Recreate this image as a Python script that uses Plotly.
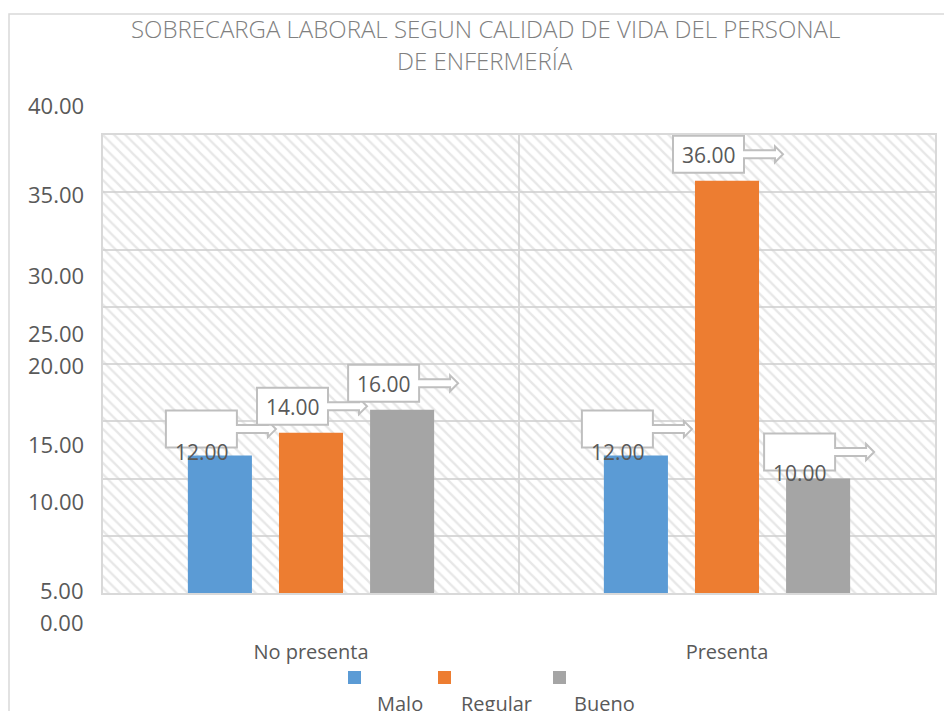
import plotly.graph_objects as go

# data
categories = ["No presenta", "Presenta"]
series = ["Malo", "Regular", "Bueno"]
malo = [12, 12]
regular = [14, 36]
bueno = [16, 10]
tick_labels = ["40.00", "35.00", "30.00", "25.00", "20.00", "15.00", "10.00", "5.00", "0.00"]

# layout helpers (where the labels sit, not data)
tick_label_y = [42.6, 34.85, 27.8, 22.75, 19.9, 13.0, 8.0, 0.26, -2.5]
colors = ["#5b9bd5", "#ed7d31", "#a5a5a5"]
bar_w = 0.154
offsets = [-0.296, -0.077, 0.142]
# vertical shift of the value text per series/category (px)
text_dy = [[4, 4], [26, 26], [26, 6]]
legend_x = [348, 438, 553]
legend_text_x = [400, 496, 604]

# the page adds an 8px body margin, so pull everything back
SHIFT = 8
L, T, PW, PH = 103 - SHIFT, 135 - SHIFT, 832, 458


def px(xp):
    return (xp - SHIFT - L) / PW


def py(yp):
    return (T + PH - (yp - SHIFT)) / PH


values = [malo, regular, bueno]
xs = list(range(len(categories)))

fig = go.Figure()

# hatched plot area
fig.add_trace(go.Bar(x=[0.5], y=[40], width=[2], offset=-1,
                     marker=dict(color="rgba(0,0,0,0)", line=dict(width=0),
                                 pattern=dict(shape="\\", fgcolor="#d0d0d0", size=8, solidity=0.3)),
                     hoverinfo="skip", showlegend=False))

for i, name in enumerate(series):
    fig.add_trace(go.Bar(x=xs, y=values[i], name=name, width=[bar_w] * len(xs),
                         offset=offsets[i], marker=dict(color=colors[i], line=dict(width=0)),
                         showlegend=False))

shapes = []
annotations = []
callout = "M -54,8 L 17,8 L 17,22.5 L 48,22.5 L 48,18.5 L 56,26.5 L 48,34.5 L 48,30.5 L 17,30.5 L 17,45 L -54,45 Z"
for i in range(len(series)):
    for j in xs:
        cx = j + offsets[i] + bar_w / 2
        shapes.append(dict(type="path", xref="x", yref="y", xsizemode="pixel", ysizemode="pixel",
                           xanchor=cx, yanchor=values[i][j], path=callout,
                           fillcolor="white", line=dict(color="#bfbfbf", width=2), layer="above"))
        annotations.append(dict(x=cx, y=values[i][j], xref="x", yref="y", text="%.2f" % values[i][j],
                                showarrow=False, xshift=-18, yshift=text_dy[i][j],
                                font=dict(size=21, color="#595959")))

# misplaced y tick labels
for lab, yv in zip(tick_labels, tick_label_y):
    annotations.append(dict(x=px(86), y=yv / 40, xref="paper", yref="paper", text=lab, xanchor="right",
                            yanchor="middle", showarrow=False, font=dict(size=22, color="#595959")))

# legend drawn by hand: squares above, names below
for k, name in enumerate(series):
    shapes.append(dict(type="rect", xref="paper", yref="paper", x0=px(legend_x[k]), x1=px(legend_x[k] + 13),
                       y0=py(684), y1=py(671), fillcolor=colors[k], line=dict(width=0)))
    annotations.append(dict(x=px(legend_text_x[k]), y=py(703), xref="paper", yref="paper",
                            text=name, showarrow=False, yanchor="middle",
                            font=dict(size=20, color="#595959")))

# outer chart border
shapes.append(dict(type="rect", xref="paper", yref="paper", x0=px(9), x1=1.2,
                   y0=-0.5, y1=py(14), line=dict(color="#d9d9d9", width=1.5),
                   fillcolor="rgba(0,0,0,0)", layer="below"))

# title as two centred lines
title_lines = ["SOBRECARGA LABORAL SEGUN CALIDAD DE VIDA DEL PERSONAL", "DE ENFERMERÍA"]
for line, yc in zip(title_lines, [28, 60]):
    annotations.append(dict(x=px(485), y=py(yc), xref="paper", yref="paper", text=line,
                            showarrow=False, xanchor="center", yanchor="middle",
                            font=dict(size=24, color="#808080", family="Open Sans", weight=300)))

fig.update_layout(
    width=952, height=711,
    margin=dict(l=L, r=952 - L - PW, t=T, b=711 - T - PH),
    paper_bgcolor="white", plot_bgcolor="white",
    barmode="overlay",
    font=dict(family="Open Sans", color="#595959"),
    xaxis=dict(range=[-0.5, 1.5], tickvals=xs, ticktext=categories, showgrid=False, zeroline=False,
               showline=True, mirror=True, linecolor="#d9d9d9", linewidth=2, ticks="",
               ticklabelstandoff=40, tickfont=dict(size=20, color="#595959"),
               minor=dict(tickvals=[0.5], showgrid=True, gridcolor="#d9d9d9", gridwidth=2, ticks="")),
    yaxis=dict(range=[0, 40], tickvals=[0, 5, 10, 15, 20, 25, 30, 35, 40], showticklabels=False,
               showgrid=True, gridcolor="#d9d9d9", gridwidth=2, zeroline=False,
               showline=True, mirror=True, linecolor="#d9d9d9", linewidth=2),
    shapes=shapes,
    annotations=annotations,
)

fig.write_html("out.html")
